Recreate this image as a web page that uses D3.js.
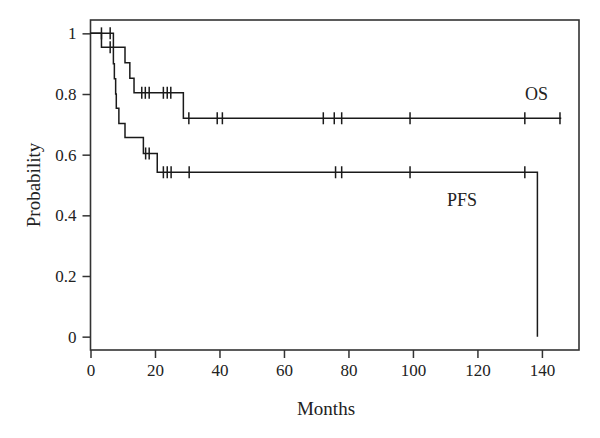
<!DOCTYPE html>
<html>
<head>
<meta charset="utf-8">
<script src="https://cdn.jsdelivr.net/npm/d3@7"></script>
<style>
  html, body { margin: 0; padding: 0; background: #fff; }
  svg text { font-family: "Liberation Serif", "DejaVu Serif", serif; fill: #222; }
</style>
</head>
<body>
<svg id="chart" width="600" height="438"></svg>
<script>
// ---- data ----
const xTicks = [0, 20, 40, 60, 80, 100, 120, 140];
const yTicks = [0, 0.2, 0.4, 0.6, 0.8, 1];
const yTickLabels = ["0", "0.2", "0.4", "0.6", "0.8", "1"];

// Overall survival (OS): event times and survival after each event
const osTimes = [0, 3.4, 10.7, 12.2, 13.5, 28.8, 146];
const osSurv  = [1, 0.954, 0.903, 0.852, 0.804, 0.72, 0.72];
const osCensorTimes = [6.1, 15.9, 17.0, 18.2, 22.6, 23.8, 24.9, 30.5, 39.3, 40.9, 72.2, 75.6, 77.9, 99.1, 134.7, 145.6];

// Progression-free survival (PFS)
const pfsTimes = [0, 7.1, 7.4, 7.8, 8.0, 8.8, 10.7, 16.4, 20.7, 138.6, 138.6];
const pfsSurv  = [1, 0.90, 0.85, 0.80, 0.753, 0.703, 0.657, 0.604, 0.542, 0.542, 0];
const pfsCensorTimes = [3.4, 6.1, 17.1, 18.2, 22.6, 23.8, 25.0, 30.6, 76.0, 77.9, 99.1, 134.7];

const seriesLabels = ["OS", "PFS"];

// ---- drawing ----
const svg = d3.select("#chart");
const x = d3.scaleLinear().domain([0, 151.5]).range([90.5, 579]);
const y = d3.scaleLinear().domain([-0.044, 1.044]).range([350, 20]);

const ink = "#1a1a1a";

// frame
svg.append("rect")
  .attr("x", x.range()[0]).attr("y", y.range()[1])
  .attr("width", x.range()[1] - x.range()[0])
  .attr("height", y.range()[0] - y.range()[1])
  .attr("fill", "none").attr("stroke", "#333").attr("stroke-width", 1.6);

// axes
const xAxis = d3.axisBottom(x).tickValues(xTicks).tickSize(8).tickPadding(6).tickFormat(d3.format("d"));
const yAxis = d3.axisLeft(y).tickValues(yTicks).tickSize(8).tickPadding(6)
  .tickFormat((d, i) => yTickLabels[i]);

const gx = svg.append("g").attr("transform", `translate(0,${y.range()[0]})`).call(xAxis);
const gy = svg.append("g").attr("transform", `translate(${x.range()[0]},0)`).call(yAxis);
[gx, gy].forEach(g => {
  g.select(".domain").remove();
  g.selectAll(".tick line").attr("stroke", "#333").attr("stroke-width", 1.5);
  g.selectAll(".tick text").attr("font-size", 17).attr("fill", "#222")
    .attr("font-family", "Liberation Serif, serif");
});

// axis titles
svg.append("text").attr("x", 326).attr("y", 415)
  .attr("text-anchor", "middle").attr("font-size", 19).text("Months");
svg.append("text").attr("transform", "translate(40,185) rotate(-90)")
  .attr("text-anchor", "middle").attr("font-size", 19).text("Probability");

// step curves
const line = d3.line().x(d => x(d[0])).y(d => y(d[1])).curve(d3.curveStepAfter);
const osPts = osTimes.map((t, i) => [t, osSurv[i]]);
const pfsPts = pfsTimes.map((t, i) => [t, pfsSurv[i]]);

[osPts, pfsPts].forEach(pts => {
  svg.append("path").attr("d", line(pts)).attr("fill", "none")
    .attr("stroke", ink).attr("stroke-width", 1.5);
});

function survAt(times, surv, t) {
  let s = surv[0];
  for (let i = 0; i < times.length; i++) if (times[i] <= t) s = surv[i];
  return s;
}

function drawCensors(ct, times, surv) {
  svg.append("g").selectAll("line").data(ct).join("line")
    .attr("x1", d => x(d)).attr("x2", d => x(d))
    .attr("y1", d => y(survAt(times, surv, d)) - 6)
    .attr("y2", d => y(survAt(times, surv, d)) + 6)
    .attr("stroke", ink).attr("stroke-width", 1.5);
}
drawCensors(osCensorTimes, osTimes, osSurv);
drawCensors(pfsCensorTimes, pfsTimes.slice(0, -1), pfsSurv.slice(0, -1));

// series labels
svg.append("text").attr("x", 525).attr("y", 100).attr("font-size", 18).text(seriesLabels[0]);
svg.append("text").attr("x", 447).attr("y", 206).attr("font-size", 18).text(seriesLabels[1]);
</script>
</body>
</html>
